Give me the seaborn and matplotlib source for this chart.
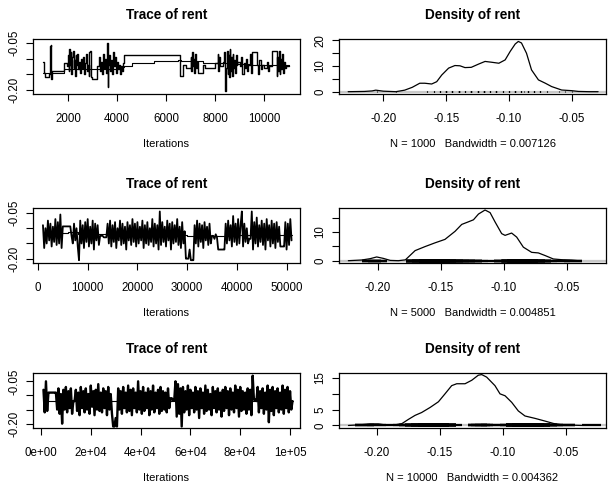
import numpy as np
import matplotlib
matplotlib.use("Agg")
import matplotlib.pyplot as plt
import seaborn as sns

# ---------------- data ----------------
# Trace 1 (N = 1000, iterations 1001..11000): change points of the chain
trace1_iter = [1001, 1020, 1060, 1250, 1280, 1300, 1320, 1340, 1850, 1950,
               2000, 2030, 2060, 2090, 2110, 2140, 2170, 2200, 2230, 2260,
               2290, 2320, 2350, 2380, 2420, 2450, 2480, 2520, 2560, 2600,
               2640, 2680, 2720, 2760, 2800, 2840, 2880, 2920, 2960, 3000,
               3200, 3250, 3300, 3350, 3400, 3440, 3480, 3520, 3560, 3600,
               3620, 3650, 3690, 3720, 3760, 3800, 3840, 3880, 3920, 3960,
               4000, 4040, 4080, 4120, 4160, 4200, 4250, 4300, 6550, 6700,
               6800, 7000, 7030, 7060, 7090, 7120, 7150, 7180, 7220, 7260,
               7300, 7500, 7600, 8000, 8100, 8130, 8160, 8200, 8300, 8350,
               8400, 8440, 8470, 8500, 8530, 8560, 8590, 8620, 8650, 8680,
               8710, 8740, 8770, 8800, 8830, 8870, 8900, 9000, 9050, 9100,
               9150, 9200, 9250, 9300, 9350, 9400, 9450, 9500, 9700, 9750,
               9800, 9850, 9900, 10000, 10100, 10150, 10200, 10300, 10500, 10530,
               10560, 10590, 10620, 10650, 10680, 10720, 10760, 10800, 10850, 10900,
               11000]
trace1_val = [-0.110, -0.145, -0.160, -0.150, -0.060, -0.055, -0.165, -0.140, -0.115, -0.125,
              -0.090, -0.140, -0.070, -0.120, -0.080, -0.150, -0.095, -0.075, -0.130, -0.105,
              -0.155, -0.090, -0.120, -0.085, -0.135, -0.110, -0.145, -0.100, -0.130, -0.095,
              -0.150, -0.115, -0.085, -0.140, -0.120, -0.155, -0.080, -0.075, -0.160, -0.165,
              -0.125, -0.095, -0.140, -0.110, -0.150, -0.085, -0.130, -0.100, -0.145, -0.050,
              -0.190, -0.120, -0.090, -0.140, -0.105, -0.150, -0.080, -0.125, -0.095, -0.145,
              -0.110, -0.135, -0.120, -0.150, -0.125, -0.140, -0.115, -0.088, -0.155, -0.120,
              -0.130, -0.095, -0.140, -0.080, -0.125, -0.100, -0.145, -0.085, -0.130, -0.110,
              -0.145, -0.120, -0.130, -0.115, -0.085, -0.140, -0.095, -0.125, -0.110, -0.080,
              -0.205, -0.130, -0.075, -0.150, -0.090, -0.160, -0.070, -0.140, -0.095, -0.155,
              -0.085, -0.130, -0.105, -0.145, -0.090, -0.120, -0.110, -0.125, -0.095, -0.150,
              -0.115, -0.130, -0.100, -0.140, -0.120, -0.085, -0.145, -0.080, -0.120, -0.150,
              -0.105, -0.135, -0.120, -0.130, -0.110, -0.140, -0.125, -0.075, -0.155, -0.095,
              -0.140, -0.075, -0.150, -0.100, -0.135, -0.085, -0.145, -0.110, -0.130, -0.125,
              -0.125]
trace1_ref_iter = [1001, 1800, 1850, 2000, 3000, 4000, 4300, 4600, 5500, 6500, 6600, 7500, 8500, 9500, 11000]
trace1_ref_val = [-0.145, -0.145, -0.135, -0.135, -0.132, -0.128, -0.125, -0.115, -0.108, -0.103,
                  -0.108, -0.113, -0.118, -0.122, -0.125]

# Trace 2 (N = 5000, iterations 1001..51000), one reading every 250 iterations
trace2_step = 250
trace2_val = [-0.090, -0.165, -0.100, -0.150, -0.075, -0.140, -0.085, -0.160, -0.095, -0.145,
              -0.070, -0.155, -0.080, -0.150, -0.055, -0.165, -0.094, -0.094, -0.094, -0.094,
              -0.094, -0.094, -0.094, -0.125, -0.150, -0.085, -0.140, -0.100, -0.160, -0.205,
              -0.075, -0.150, -0.090, -0.165, -0.080, -0.145, -0.070, -0.160, -0.095, -0.150,
              -0.075, -0.170, -0.085, -0.140, -0.090, -0.155, -0.125, -0.125, -0.125, -0.130,
              -0.130, -0.130, -0.085, -0.150, -0.075, -0.160, -0.090, -0.145, -0.080, -0.165,
              -0.100, -0.140, -0.075, -0.155, -0.085, -0.150, -0.095, -0.170, -0.080, -0.140,
              -0.090, -0.155, -0.070, -0.145, -0.085, -0.160, -0.080, -0.150, -0.095, -0.140,
              -0.075, -0.165, -0.090, -0.150, -0.080, -0.155, -0.100, -0.145, -0.070, -0.160,
              -0.085, -0.150, -0.090, -0.170, -0.045, -0.155, -0.080, -0.145, -0.095, -0.160,
              -0.075, -0.140, -0.085, -0.170, -0.080, -0.150, -0.090, -0.145, -0.070, -0.155,
              -0.095, -0.165, -0.080, -0.150, -0.110, -0.200, -0.200, -0.200, -0.170, -0.205,
              -0.205, -0.205, -0.090, -0.150, -0.075, -0.160, -0.085, -0.145, -0.090, -0.165,
              -0.080, -0.140, -0.095, -0.155, -0.085, -0.150, -0.125, -0.125, -0.135, -0.120,
              -0.130, -0.170, -0.170, -0.170, -0.170, -0.170, -0.170, -0.085, -0.150, -0.075,
              -0.140, -0.090, -0.160, -0.060, -0.145, -0.085, -0.155, -0.070, -0.150, -0.090,
              -0.045, -0.160, -0.085, -0.145, -0.100, -0.150, -0.135, -0.135, -0.045, -0.170,
              -0.080, -0.150, -0.065, -0.160, -0.090, -0.145, -0.075, -0.155, -0.085, -0.170,
              -0.070, -0.140, -0.090, -0.160, -0.075, -0.150, -0.085, -0.165, -0.080, -0.145,
              -0.095, -0.160, -0.160, -0.160, -0.160, -0.080, -0.170, -0.085, -0.155, -0.070,
              -0.140]
trace2_ref_iter = [1001, 6000, 8000, 12000, 14000, 20000, 30000, 40000, 51000]
trace2_ref_val = [-0.115, -0.112, -0.118, -0.120, -0.125, -0.122, -0.125, -0.122, -0.122]

# Trace 3 (N = 10000, iterations 1001..101000), one reading every 500 iterations
trace3_step = 500
trace3_val = [-0.080, -0.160, -0.050, -0.155, -0.090, -0.090, -0.090, -0.090, -0.090, -0.090,
              -0.090, -0.150, -0.075, -0.165, -0.095, -0.200, -0.080, -0.150, -0.070, -0.160,
              -0.085, -0.145, -0.075, -0.165, -0.120, -0.120, -0.080, -0.155, -0.090, -0.170,
              -0.070, -0.145, -0.085, -0.160, -0.075, -0.150, -0.095, -0.165, -0.065, -0.140,
              -0.085, -0.170, -0.080, -0.150, -0.060, -0.155, -0.090, -0.160, -0.075, -0.145,
              -0.085, -0.170, -0.070, -0.150, -0.095, -0.165, -0.210, -0.210, -0.180, -0.210,
              -0.075, -0.150, -0.085, -0.165, -0.070, -0.145, -0.090, -0.160, -0.065, -0.155,
              -0.080, -0.170, -0.075, -0.145, -0.090, -0.160, -0.050, -0.150, -0.085, -0.165,
              -0.070, -0.155, -0.090, -0.145, -0.075, -0.170, -0.085, -0.150, -0.065, -0.160,
              -0.090, -0.145, -0.080, -0.165, -0.070, -0.155, -0.085, -0.150, -0.090, -0.160,
              -0.075, -0.145, -0.110, -0.110, -0.118, -0.118, -0.050, -0.175, -0.060, -0.165,
              -0.075, -0.210, -0.070, -0.160, -0.085, -0.150, -0.065, -0.170, -0.080, -0.145,
              -0.090, -0.160, -0.070, -0.150, -0.085, -0.180, -0.075, -0.145, -0.090, -0.165,
              -0.065, -0.155, -0.080, -0.150, -0.095, -0.170, -0.070, -0.145, -0.085, -0.160,
              -0.075, -0.150, -0.090, -0.175, -0.080, -0.155, -0.070, -0.145, -0.085, -0.170,
              -0.075, -0.150, -0.090, -0.160, -0.065, -0.145, -0.080, -0.175, -0.070, -0.155,
              -0.085, -0.150, -0.090, -0.165, -0.075, -0.150, -0.080, -0.170, -0.030, -0.115,
              -0.115, -0.120, -0.070, -0.160, -0.085, -0.145, -0.075, -0.165, -0.090, -0.150,
              -0.065, -0.195, -0.080, -0.155, -0.070, -0.170, -0.085, -0.145, -0.075, -0.160,
              -0.090, -0.150, -0.065, -0.165, -0.080, -0.145, -0.070, -0.160, -0.085, -0.150,
              -0.120]
trace3_ref_iter = [1001, 101000]
trace3_ref_val = [-0.118, -0.118]

# Density curves (x = rent, y = density)
dens1_x = [-0.228, -0.215, -0.209, -0.206, -0.200, -0.190, -0.183, -0.177, -0.171, -0.167,
           -0.1615, -0.1575, -0.1535, -0.148, -0.143, -0.139, -0.135, -0.130, -0.124, -0.119,
           -0.114, -0.108, -0.103, -0.099, -0.095, -0.0925, -0.090, -0.086, -0.082, -0.0765,
           -0.071, -0.066, -0.058, -0.050, -0.0447, -0.036, -0.029]
dens1_y = [0.0, 0.1, 0.3, 0.6, 0.2, 0.0, 0.6, 1.7, 3.3, 3.3,
           3.0, 3.9, 6.5, 9.2, 10.2, 10.1, 9.4, 9.5, 10.8, 11.8,
           11.5, 11.1, 12.4, 15.7, 18.6, 19.6, 19.0, 15.0, 8.5, 4.6,
           3.3, 2.0, 0.65, 0.4, 0.1, 0.0, 0.0]
dens2_x = [-0.2233, -0.2127, -0.206, -0.2008, -0.1955, -0.190, -0.1836, -0.178, -0.1703, -0.1624,
           -0.1545, -0.1466, -0.1386, -0.1333, -0.128, -0.124, -0.120, -0.1148, -0.1108, -0.1069,
           -0.1016, -0.0989, -0.0937, -0.0897, -0.0844, -0.0778, -0.0725, -0.0672, -0.0606, -0.0540,
           -0.0460, -0.0408]
dens2_y = [0.0, 0.24, 0.7, 1.3, 0.8, 0.1, 0.0, 0.3, 3.5, 4.9,
           6.2, 7.4, 10.2, 12.6, 13.5, 14.2, 16.2, 17.6, 16.7, 13.5,
           9.4, 8.8, 9.6, 8.2, 4.7, 2.9, 2.7, 1.8, 0.6, 0.35,
           0.2, 0.0]
dens3_x = [-0.2224, -0.2132, -0.2053, -0.1987, -0.192, -0.1855, -0.180, -0.175, -0.1696, -0.1644,
           -0.1577, -0.1511, -0.1459, -0.1406, -0.1366, -0.130, -0.1247, -0.1195, -0.1168, -0.1129,
           -0.1063, -0.1023, -0.0983, -0.093, -0.0878, -0.0825, -0.0746, -0.0667, -0.060, -0.0534,
           -0.0455, -0.0376]
dens3_y = [0.0, 0.2, 0.5, 0.5, 0.1, 0.2, 0.6, 1.9, 3.2, 4.1,
           5.7, 7.5, 10.0, 12.6, 13.2, 13.2, 14.3, 15.9, 16.1, 15.3,
           12.6, 10.0, 9.4, 7.3, 4.6, 3.0, 2.25, 1.4, 0.64, 0.2,
           0.1, 0.0]

titles = ["Trace of rent", "Density of rent"]
n_samples = [1000, 5000, 10000]
bandwidths = ["0.007126", "0.004851", "0.004362"]
trace_xticks = [[2000, 4000, 6000, 8000, 10000],
                [0, 10000, 20000, 30000, 40000, 50000],
                [0, 20000, 40000, 60000, 80000, 100000]]
trace_xticklabels = [["2000", "4000", "6000", "8000", "10000"],
                     ["0", "10000", "20000", "30000", "40000", "50000"],
                     ["0e+00", "2e+04", "4e+04", "6e+04", "8e+04", "1e+05"]]
trace_yticks = [-0.20, -0.15, -0.10, -0.05]
trace_yticklabels = ["-0.20", "", "", "-0.05"]
dens_xticks = [-0.20, -0.15, -0.10, -0.05]
dens_xticklabels = ["-0.20", "-0.15", "-0.10", "-0.05"]
dens_yticks = [[0, 5, 10, 15, 20], [0, 5, 10, 15], [0, 5, 10, 15]]
dens_yticklabels = [["0", "", "10", "", "20"], ["0", "", "10", ""], ["0", "5", "", "15"]]

# ---------------- layout ----------------
W, H = 610, 488
sns.set_style("ticks")
plt.rcParams['font.family'] = ['Liberation Sans', 'DejaVu Sans']
plt.rcParams['path.simplify'] = False
fig = plt.figure(figsize=(W / 100, H / 100), dpi=100)

box_tops = [39, 208, 373]
box_h = 55
col_left = [33, 339]
box_w = 267

trace_xlims = [(580, 11450), (-1000, 52700), (-3200, 104000)]
trace_ylims = [(-0.2139, -0.0371), (-0.2142, -0.0336), (-0.2154, -0.0205)]
dens_xlims = [(-0.2353, -0.0227), (-0.2307, -0.0188), (-0.2299, -0.0183)]
dens_ylims = [(-0.9, 20.55), (-0.8, 18.3), (-0.8, 16.6)]
trace_styles = ["steps-post", "default", "default"]
trace_lw = [1.0, 1.3, 1.7]

traces = [
    (np.array(trace1_iter), np.array(trace1_val), trace1_ref_iter, trace1_ref_val),
    (1001 + trace2_step * np.arange(len(trace2_val)), np.array(trace2_val), trace2_ref_iter, trace2_ref_val),
    (1001 + trace3_step * np.arange(len(trace3_val)), np.array(trace3_val), trace3_ref_iter, trace3_ref_val),
]
denses = [(dens1_x, dens1_y), (dens2_x, dens2_y), (dens3_x, dens3_y)]


def make_ax(left, top):
    ax = fig.add_axes([left / W, 1 - (top + box_h) / H, box_w / W, box_h / H])
    ax.set_facecolor("white")
    for s in ax.spines.values():
        s.set_visible(True)
        s.set_color("black")
        s.set_linewidth(0.9)
    ax.tick_params(axis="both", direction="out", length=5, width=0.8, color="black",
                   labelsize=8.3, labelcolor="black")
    ax.tick_params(axis="x", pad=9)
    ax.tick_params(axis="y", pad=4)
    return ax


def add_title(ax, text):
    ax.annotate(text, xy=(0.5, 1), xycoords="axes fraction", xytext=(0, 24),
                textcoords="offset pixels", ha="center", va="center",
                fontsize=9.8, fontweight="bold", color="black")


def add_xlabel(ax, text):
    ax.annotate(text, xy=(0.5, 0), xycoords="axes fraction", xytext=(0, -50),
                textcoords="offset pixels", ha="center", va="center",
                fontsize=8, color="black")


for r in range(3):
    # Trace panel
    it, val, ref_it, ref_val = traces[r]
    ax = make_ax(col_left[0], box_tops[r])
    sns.lineplot(x=it, y=val, ax=ax, color="black", linewidth=trace_lw[r],
                 drawstyle=trace_styles[r], estimator=None, sort=False)
    sns.lineplot(x=ref_it, y=ref_val, ax=ax, color="black", linewidth=0.8,
                 drawstyle="steps-post", estimator=None, sort=False)
    ax.set_xlim(*trace_xlims[r])
    ax.set_ylim(*trace_ylims[r])
    ax.set_xticks(trace_xticks[r])
    ax.set_xticklabels(trace_xticklabels[r])
    ax.set_yticks(trace_yticks)
    ax.set_yticklabels(trace_yticklabels, rotation=90, va="center")
    ax.set_xlabel("")
    ax.set_ylabel("")
    add_title(ax, titles[0])
    add_xlabel(ax, "Iterations")

    # Density panel
    dx, dy = denses[r]
    ax2 = make_ax(col_left[1], box_tops[r])
    ax2.axhline(0, color="#c8c8c8", linewidth=1.6, zorder=1)
    ymax = max(dy)
    if r == 0:
        # observations drawn as tiny ticks on the zero line
        ax2.vlines(val, 0, ymax * 0.02, color="black", linewidth=0.8, zorder=2)
    else:
        # dense observations merge into a solid band on the zero line
        ax2.hlines(np.full(len(val), 0.0), val - 0.0075, val + 0.0075,
                   color="black", linewidth=1.6, zorder=2)
    sns.lineplot(x=dx, y=dy, ax=ax2, color="black", linewidth=0.9,
                 estimator=None, sort=False, zorder=3)
    ax2.set_xlim(*dens_xlims[r])
    ax2.set_ylim(*dens_ylims[r])
    ax2.set_xticks(dens_xticks)
    ax2.set_xticklabels(dens_xticklabels)
    ax2.set_yticks(dens_yticks[r])
    ax2.set_yticklabels(dens_yticklabels[r], rotation=90, va="center")
    ax2.set_xlabel("")
    ax2.set_ylabel("")
    add_title(ax2, titles[1])
    add_xlabel(ax2, f"N = {n_samples[r]}   Bandwidth = {bandwidths[r]}")

fig.savefig("out.png", dpi=100, facecolor="white")
